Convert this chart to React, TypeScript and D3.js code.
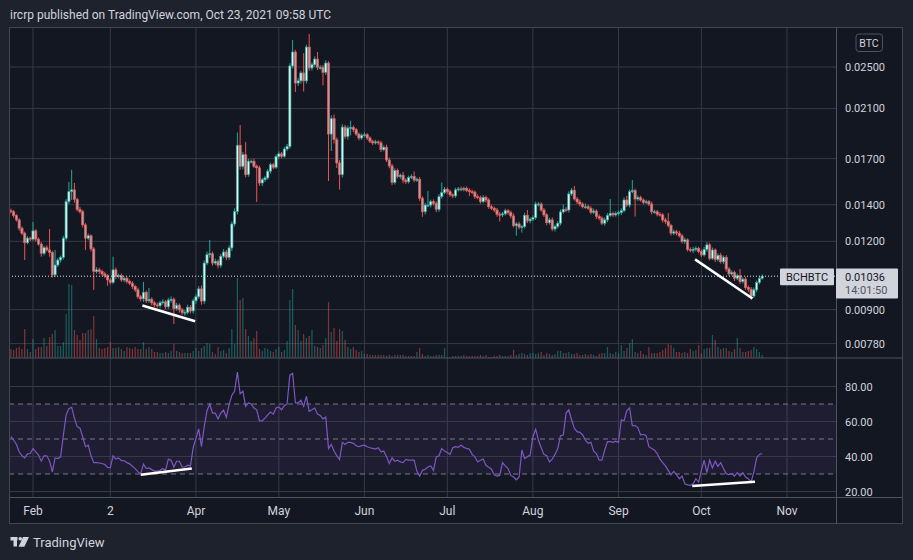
import React from 'react';
import * as d3 from 'd3';

const W = 913;
const H = 560;

// daily BCHBTC candles, 2021-01-24 .. 2021-10-23, prices in 1e-5 BTC
const firstDay = Date.UTC(2021, 0, 24);
const DAY = 86400000;
const firstOpen = 1365;

const close = [
  1359, 1337, 1313, 1268, 1242, 1193, 1216, 1211, 1254, 1211,
  1186, 1141, 1168, 1157, 1144, 1042, 1086, 1109, 1122, 1216,
  1418, 1479, 1490, 1432, 1373, 1359, 1286, 1216, 1228, 1162,
  1057, 1064, 1057, 1046, 1038, 1020, 1010, 1064, 1035, 1039,
  1020, 1027, 1013, 1006, 992, 978, 950, 942, 968, 934,
  940, 926, 918, 915, 926, 930, 911, 937, 940, 904,
  917, 899, 889, 890, 909, 895, 934, 950, 982, 933,
  1095, 1134, 1139, 1095, 1103, 1085, 1127, 1147, 1122, 1167,
  1291, 1361, 1798, 1646, 1728, 1589, 1681, 1681, 1646, 1635,
  1534, 1555, 1567, 1612, 1657, 1639, 1714, 1734, 1717, 1770,
  1790, 2511, 2663, 2337, 2358, 2438, 2358, 2719, 2490, 2524,
  2585, 2497, 2497, 2445, 2542, 1885, 2011, 1841, 1669, 1589,
  1941, 1866, 1933, 1938, 1920, 1885, 1854, 1875, 1880, 1854,
  1829, 1816, 1824, 1816, 1765, 1783, 1690, 1648, 1538, 1616,
  1576, 1585, 1553, 1542, 1569, 1576, 1553, 1558, 1439, 1359,
  1398, 1398, 1418, 1408, 1373, 1448, 1473, 1494, 1479, 1459,
  1453, 1490, 1496, 1494, 1500, 1486, 1479, 1476, 1448, 1442,
  1418, 1444, 1428, 1388, 1379, 1369, 1345, 1341, 1347, 1365,
  1354, 1335, 1282, 1291, 1274, 1277, 1339, 1308, 1317, 1326,
  1404, 1404, 1369, 1341, 1298, 1313, 1264, 1277, 1295, 1358,
  1373, 1369, 1465, 1488, 1434, 1416, 1404, 1388, 1388, 1379,
  1356, 1363, 1332, 1323, 1295, 1313, 1339, 1350, 1341, 1350,
  1354, 1365, 1428, 1398, 1479, 1486, 1434, 1442, 1428, 1414,
  1418, 1404, 1359, 1359, 1345, 1341, 1313, 1304, 1282, 1242,
  1249, 1242, 1228, 1199, 1207, 1160, 1154, 1160, 1165, 1149,
  1133, 1160, 1182, 1117, 1157, 1112, 1131, 1101, 1122, 1068,
  1046, 1052, 1027, 1038, 1013, 1023, 988, 981, 953, 978,
  1009, 1027, 1036,
];

// upper / lower wick beyond the body, 1e-5 BTC
const wickHi = [
  12, 10, 8, 9, 10, 8, 10, 7, 48, 9,
  8, 10, 9, 12, 107, 9, 71, 10, 8, 12,
  15, 62, 131, 44, 10, 14, 11, 9, 12, 8,
  9, 12, 10, 8, 9, 7, 8, 61, 10, 8,
  9, 8, 7, 9, 8, 7, 9, 8, 43, 7,
  46, 8, 7, 9, 8, 10, 7, 9, 12, 8,
  9, 7, 8, 9, 10, 8, 9, 10, 12, 14,
  12, 15, 68, 10, 12, 9, 11, 14, 10, 12,
  14, 18, 100, 160, 20, 95, 16, 14, 18, 12,
  15, 12, 14, 16, 14, 12, 15, 18, 14, 16,
  18, 30, 137, 25, 30, 22, 212, 28, 153, 25,
  30, 78, 22, 25, 30, 20, 28, 35, 18, 20,
  25, 18, 20, 56, 16, 14, 12, 15, 18, 12,
  14, 12, 15, 12, 16, 14, 20, 18, 15, 16,
  14, 12, 22, 12, 14, 16, 34, 12, 15, 12,
  14, 86, 12, 14, 12, 16, 65, 14, 12, 12,
  10, 14, 12, 16, 10, 12, 14, 12, 10, 14,
  12, 14, 10, 12, 12, 10, 12, 14, 10, 12,
  10, 12, 14, 10, 12, 8, 14, 30, 10, 12,
  14, 12, 10, 12, 10, 12, 14, 10, 12, 14,
  29, 12, 16, 14, 27, 12, 14, 10, 20, 12,
  12, 14, 10, 12, 10, 14, 12, 84, 10, 12,
  12, 14, 16, 25, 14, 67, 12, 14, 12, 10,
  12, 10, 14, 12, 10, 12, 10, 12, 48, 10,
  12, 10, 12, 10, 12, 8, 10, 12, 10, 8,
  10, 12, 14, 10, 12, 8, 10, 12, 8, 10,
  8, 10, 8, 9, 30, 8, 10, 8, 9, 10,
  8, 10, 8,
];

const wickLo = [
  10, 12, 9, 14, 10, 84, 8, 10, 9, 12,
  8, 16, 10, 8, 19, 12, 10, 9, 12, 10,
  12, 14, 50, 21, 12, 10, 14, 59, 10, 12,
  79, 10, 12, 9, 10, 25, 9, 8, 12, 9,
  8, 10, 9, 8, 10, 9, 8, 10, 12, 9,
  8, 10, 9, 8, 10, 7, 9, 8, 10, 57,
  8, 10, 9, 12, 8, 9, 10, 12, 8, 14,
  12, 10, 14, 12, 10, 15, 12, 10, 14, 12,
  16, 14, 18, 24, 20, 18, 14, 16, 12, 219,
  18, 20, 14, 12, 16, 14, 12, 18, 15, 12,
  14, 18, 25, 87, 30, 28, 103, 25, 30, 28,
  22, 30, 25, 130, 28, 338, 130, 30, 35, 97,
  20, 18, 25, 58, 20, 14, 18, 15, 12, 16,
  14, 16, 12, 15, 18, 12, 14, 16, 18, 14,
  12, 15, 21, 14, 12, 10, 14, 12, 16, 29,
  15, 12, 14, 12, 16, 14, 12, 10, 14, 12,
  14, 12, 10, 12, 14, 10, 26, 12, 14, 10,
  12, 10, 14, 12, 10, 12, 14, 37, 12, 10,
  12, 14, 10, 53, 12, 29, 10, 12, 14, 10,
  12, 14, 10, 12, 14, 10, 12, 14, 10, 12,
  10, 12, 14, 12, 10, 12, 14, 10, 12, 10,
  12, 10, 14, 12, 10, 14, 12, 10, 12, 10,
  12, 14, 10, 12, 14, 10, 102, 12, 10, 12,
  10, 12, 14, 10, 12, 10, 14, 12, 10, 12,
  10, 12, 8, 10, 12, 10, 8, 12, 10, 8,
  10, 8, 12, 10, 8, 12, 10, 8, 10, 12,
  10, 8, 12, 8, 10, 8, 10, 12, 14, 8,
  10, 8, 6,
];

// volume, thousand BCH (rough)
const volume = [
  9, 8, 10, 11, 9, 29, 9, 6, 19, 9,
  11, 11, 20, 12, 21, 24, 28, 12, 12, 16,
  44, 74, 73, 28, 23, 18, 25, 25, 28, 29,
  42, 19, 10, 9, 10, 11, 16, 10, 10, 11,
  9, 7, 11, 10, 9, 11, 9, 9, 16, 9,
  11, 9, 6, 6, 5, 5, 6, 5, 7, 14,
  7, 6, 5, 5, 5, 5, 7, 10, 7, 10,
  12, 15, 14, 6, 4, 11, 7, 8, 5, 10,
  29, 14, 80, 58, 60, 29, 22, 17, 20, 27,
  9, 7, 10, 9, 7, 6, 9, 11, 6, 8,
  17, 58, 69, 33, 28, 17, 24, 20, 22, 28,
  12, 11, 10, 13, 20, 56, 26, 30, 17, 29,
  27, 18, 11, 9, 11, 8, 6, 7, 4, 4,
  3, 3, 3, 3, 3, 3, 2, 3, 2, 3,
  3, 3, 3, 2, 2, 2, 2, 6, 10, 4,
  2, 3, 2, 2, 3, 3, 3, 10, 1, 1,
  2, 2, 2, 2, 3, 2, 2, 2, 2, 2,
  3, 2, 3, 1, 1, 2, 2, 3, 2, 2,
  2, 3, 8, 3, 4, 5, 4, 3, 5, 5,
  4, 5, 6, 3, 5, 4, 3, 4, 7, 7,
  5, 5, 6, 4, 4, 5, 3, 3, 4, 3,
  4, 3, 2, 4, 5, 5, 11, 5, 4, 6,
  5, 13, 7, 10, 15, 19, 6, 5, 7, 4,
  3, 11, 5, 5, 5, 6, 8, 10, 14, 13,
  10, 6, 6, 5, 6, 5, 9, 7, 8, 13,
  5, 9, 10, 10, 23, 18, 11, 9, 10, 10,
  7, 6, 9, 20, 10, 6, 6, 7, 8, 11,
  9, 6, 3,
];

// RSI(14) as drawn in the lower pane
const rsi = [
  51.3, 49.4, 46.9, 42.7, 40.4, 39.2, 41.5, 41.7, 44.6, 42.7,
  40.8, 37.3, 40.4, 40.4, 37.5, 31.2, 39.2, 38.8, 39.8, 52.3,
  63.8, 67.3, 68.1, 61.9, 57.1, 56.2, 51.3, 45.6, 46.5, 40.4,
  36.5, 36.5, 36.3, 36, 35.4, 33.8, 33.7, 40.4, 38.5, 39.2,
  37.7, 37.7, 36.5, 35.8, 34.4, 33.1, 31.2, 30.2, 35.6, 33.1,
  33.5, 32.5, 31.7, 31.7, 32.1, 33.1, 32.1, 38.5, 37.9, 34,
  37.3, 37.3, 34, 34, 35, 34.6, 45, 50.4, 55.8, 45.6,
  57.1, 66.2, 70, 64.8, 64.8, 61.5, 64.8, 66.5, 62.3, 69.6,
  75, 77.3, 88.3, 75.8, 77.3, 68.7, 70.6, 70, 67.7, 66.7,
  60.4, 60.4, 61.9, 63.8, 65.4, 64.2, 67.7, 68.3, 66.7, 69,
  70, 86.5, 87.5, 70.6, 70.6, 72.1, 68.7, 74.4, 65.8, 66.7,
  67.7, 64.2, 63.5, 61.5, 62.5, 44.6, 46.9, 43.1, 40.4, 38.3,
  48.1, 46.9, 48.1, 48.1, 47.5, 46.2, 45.6, 46.2, 46.5, 45.6,
  45, 44.6, 44.2, 45, 42.7, 43.1, 39.8, 36, 39.2, 37.3,
  37.9, 36.9, 36.5, 38.3, 37.9, 37.9, 37.9, 31.5, 28.8, 32.1,
  32.7, 34, 34.6, 32.1, 39.8, 40.4, 44.6, 43.1, 42.3, 41.2,
  45, 45.6, 45.2, 46.5, 45.2, 44.6, 44.2, 41.2, 39.8, 36.9,
  37.9, 38.5, 35, 33.8, 32.7, 29.6, 28.8, 29.2, 36.5, 34.6,
  33.1, 29.2, 28.3, 26.7, 28.3, 43.7, 38.8, 39.8, 40.8, 51.3,
  55.6, 49.4, 45, 41.2, 40.4, 36.9, 38.5, 41.2, 44.6, 51.9,
  52.3, 64.8, 66.7, 61, 56.2, 54.2, 53.8, 52.3, 49.4, 47.5,
  48.1, 43.1, 41.7, 37.9, 37.9, 43.7, 48.5, 48.5, 48.1, 48.8,
  48.1, 61, 60.4, 66.2, 67.7, 57.7, 57.7, 56.5, 52.3, 52.7,
  51.9, 45.6, 44.6, 43.7, 41.7, 38.5, 36.5, 34.6, 32.1, 29.6,
  31.5, 29.6, 27.3, 28.8, 24.4, 23.8, 23.5, 24.4, 27.3, 25.4,
  32.1, 37.9, 30.8, 37.9, 33.5, 37.3, 34.4, 36.5, 33.1, 30.2,
  29.6, 30.2, 28.8, 30.8, 28.8, 30.8, 28.3, 27.3, 25.4, 31.2,
  39.2, 41.2, 41.7,
];

const priceTicks = [0.025, 0.021, 0.017, 0.014, 0.012, 0.009, 0.0078];
const rsiTicks = [80, 60, 40, 20];
const rsiLevels = [70, 50, 30];
const monthStarts = [1, 2, 3, 4, 5, 6, 7, 8, 9, 10].map((m) => Date.UTC(2021, m, 1));
const monthLabels = ['Feb', '2', 'Apr', 'May', 'Jun', 'Jul', 'Aug', 'Sep', 'Oct', 'Nov'];

// drawn trend lines: [day0, value0, day1, value1]
const priceLines = [
  [47.6, 0.00916, 66.7, 0.00857],
  [247.7, 0.01112, 268.5, 0.00943],
];
const rsiLines = [
  [47, 29.6, 65.5, 33.1],
  [246.7, 23.1, 269.4, 25.6],
];

// layout
const PL = 9;
const PT = 27;
const PR = 836;
const RE = 903;
const SEP = 358;
const AXT = 497.5;
const BOT = 524;

const UP = '#26a69a';
const DOWN = '#ef5350';
const GRID = '#363a45';
const TEXT = '#d1d4dc';

const dayDate = (d: number) => new Date(firstDay + d * DAY);

export default function App() {
  const candles = close.map((c, i) => {
    const o = i === 0 ? firstOpen : close[i - 1];
    return {
      date: dayDate(i),
      open: o * 1e-5,
      close: c * 1e-5,
      high: (Math.max(o, c) + wickHi[i]) * 1e-5,
      low: (Math.min(o, c) - wickLo[i]) * 1e-5,
      vol: volume[i],
      rsi: rsi[i],
    };
  });

  const x = d3.scaleUtc()
    .domain([new Date(firstDay), new Date(Date.UTC(2021, 10, 1))])
    .range([10.9, 787]);
  const y = d3.scaleLog().domain([0.025, 0.0078]).range([67, 343.6]);
  const yVol = d3.scaleLinear().domain([0, 80]).range([SEP, 278]);
  const yRsi = d3.scaleLinear().domain([80, 20]).range([386.5, 491.5]);

  const rsiPath = d3.line<any>()
    .x((d) => x(d.date))
    .y((d) => yRsi(d.rsi))(candles) || '';

  const last = candles[candles.length - 1];
  const yLast = y(last.close);
  const bw = 2.2;

  return (
    <svg
      width={W}
      height={H}
      style={{ position: 'fixed', left: 0, top: 0, display: 'block' }}
      fontFamily="Roboto, 'Noto Sans', sans-serif"
    >
      <defs>
        <clipPath id="pricePane">
          <rect x={PL} y={PT} width={PR - PL} height={SEP - PT} />
        </clipPath>
        <clipPath id="rsiPane">
          <rect x={PL} y={SEP} width={PR - PL} height={AXT - SEP} />
        </clipPath>
      </defs>

      <rect width={W} height={H} fill="#1e222d" />
      <text x={10} y={19} fontSize={12} fill={TEXT}>
        ircrp published on TradingView.com, Oct 23, 2021 09:58 UTC
      </text>

      <rect x={PL} y={PT} width={RE - PL} height={BOT - PT} fill="#131722" />

      {/* grid */}
      {monthStarts.map((t) => (
        <line key={t} x1={x(new Date(t))} x2={x(new Date(t))} y1={PT} y2={AXT} stroke={GRID} />
      ))}
      {priceTicks.map((p) => (
        <line key={p} x1={PL} x2={PR} y1={y(p)} y2={y(p)} stroke={GRID} />
      ))}
      <rect
        x={PL}
        y={yRsi(70)}
        width={PR - PL}
        height={yRsi(30) - yRsi(70)}
        fill="rgba(126,87,194,0.1)"
      />
      {rsiTicks.map((v) => (
        <line key={v} x1={PL} x2={PR} y1={yRsi(v)} y2={yRsi(v)} stroke={GRID} />
      ))}
      {rsiLevels.map((v) => (
        <line
          key={v}
          x1={PL}
          x2={PR}
          y1={yRsi(v)}
          y2={yRsi(v)}
          stroke="#787b86"
          strokeDasharray="5,4"
        />
      ))}

      {/* volume + candles */}
      <g clipPath="url(#pricePane)">
        {candles.map((d, i) => (
          <rect
            key={'v' + i}
            x={x(d.date) - 0.6}
            y={yVol(d.vol)}
            width={1.2}
            height={SEP - yVol(d.vol)}
            fill={d.close >= d.open ? UP : DOWN}
            fillOpacity={0.5}
          />
        ))}
        {candles.map((d, i) => {
          const up = d.close >= d.open;
          const cx = x(d.date);
          const top = y(Math.max(d.open, d.close));
          const bot = y(Math.min(d.open, d.close));
          return (
            <g key={'c' + i}>
              <line x1={cx} x2={cx} y1={y(d.high)} y2={y(d.low)} stroke={up ? UP : DOWN} strokeWidth={1} />
              <rect
                x={cx - bw / 2}
                y={top}
                width={bw}
                height={Math.max(1, bot - top)}
                fill={up ? '#e3f4f1' : '#a8a2aa'}
                stroke={up ? UP : DOWN}
                strokeWidth={0.7}
              />
            </g>
          );
        })}
        <line
          x1={PL}
          x2={PR}
          y1={yLast}
          y2={yLast}
          stroke="#e0e3eb"
          strokeDasharray="1,2"
        />
        {priceLines.map((l, i) => (
          <line
            key={i}
            x1={x(dayDate(l[0]))}
            y1={y(l[1])}
            x2={x(dayDate(l[2]))}
            y2={y(l[3])}
            stroke="#ffffff"
            strokeWidth={2.5}
          />
        ))}
      </g>

      <g clipPath="url(#rsiPane)">
        <path d={rsiPath} fill="none" stroke="#7e57c2" strokeWidth={1.2} />
        {rsiLines.map((l, i) => (
          <line
            key={i}
            x1={x(dayDate(l[0]))}
            y1={yRsi(l[1])}
            x2={x(dayDate(l[2]))}
            y2={yRsi(l[3])}
            stroke="#ffffff"
            strokeWidth={2.5}
          />
        ))}
      </g>

      {/* frame */}
      <rect x={PL + 0.5} y={PT + 0.5} width={RE - PL - 1} height={BOT - PT - 1} fill="none" stroke="#434651" />
      <line x1={PR + 0.5} x2={PR + 0.5} y1={PT} y2={BOT} stroke="#50535e" />
      <line x1={PL} x2={RE} y1={SEP} y2={SEP} stroke="#50535e" />
      <line x1={PL} x2={RE} y1={AXT} y2={AXT} stroke="#50535e" />

      {/* price axis */}
      <rect x={856} y={34} width={26.5} height={17.5} rx={3} fill="none" stroke="#50535e" />
      <text x={869} y={46.5} fontSize={10.5} fill={TEXT} textAnchor="middle">BTC</text>
      {priceTicks.map((p) => (
        <text key={p} x={845} y={y(p) + 4} fontSize={11} fill={TEXT}>
          {d3.format('.5f')(p)}
        </text>
      ))}
      {rsiTicks.map((v) => (
        <text key={v} x={845} y={yRsi(v) + 4} fontSize={11} fill={TEXT}>
          {d3.format('.2f')(v)}
        </text>
      ))}

      {/* last price labels */}
      <rect x={780} y={yLast - 7.7} width={54} height={16.7} fill="#d1d4dc" rx={1} />
      <text x={807} y={yLast + 4.5} fontSize={11} fill="#131722" textAnchor="middle">BCHBTC</text>
      <rect x={836} y={yLast - 7.7} width={62} height={30} fill="#d1d4dc" rx={1} />
      <text x={845} y={yLast + 4.5} fontSize={11} fill="#131722">
        {d3.format('.5f')(last.close)}
      </text>
      <text x={845} y={yLast + 18} fontSize={11} fill="#50535e">14:01:50</text>

      {/* time axis */}
      {monthStarts.map((t, i) => (
        <text key={t} x={x(new Date(t))} y={515} fontSize={12} fill={TEXT} textAnchor="middle">
          {monthLabels[i]}
        </text>
      ))}

      {/* footer logo */}
      <g fill={TEXT}>
        <rect x={10.5} y={537} width={7} height={3.5} />
        <rect x={13.5} y={537} width={3.5} height={9.5} />
        <circle cx={20.3} cy={538.8} r={1.8} />
        <path d="M23,537 L29,537 L24.3,546.7 L18.6,546.7 Z" />
      </g>
      <text x={33} y={546.5} fontSize={13} fill={TEXT}>TradingView</text>
    </svg>
  );
}
